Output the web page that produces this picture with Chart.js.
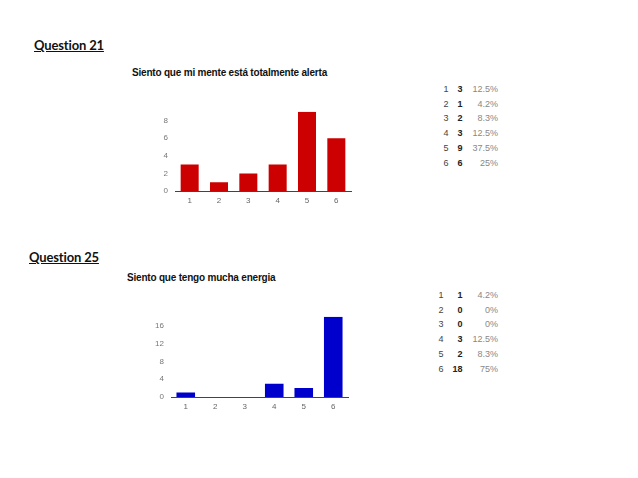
<!DOCTYPE html>
<html>
<head>
<meta charset="utf-8">
<script src="https://cdn.jsdelivr.net/npm/chart.js@4/dist/chart.umd.min.js"></script>
<style>
  html, body { margin: 0; padding: 0; background: #fff; }
  #page { position: relative; width: 638px; height: 478px; overflow: hidden; background: #fff; }
  .q { position: absolute; font-family: Lato, "Open Sans", sans-serif; font-weight: 700; font-size: 13px; color: #111; text-decoration: underline; line-height: 16px; white-space: nowrap; letter-spacing: -0.15px; }
  .ct { position: absolute; font-family: "Liberation Sans", Arial, sans-serif; font-weight: 700; font-size: 10px; color: #111; line-height: 12px; white-space: nowrap; letter-spacing: -0.2px; }
  canvas { position: absolute; }
  table.sum { position: absolute; border-collapse: collapse; font-family: "Liberation Sans", Arial, sans-serif; font-size: 9px; }
  table.sum td { padding: 0; height: 14.7px; line-height: 14.7px; white-space: nowrap; }
  table.sum td.c1 { color: #444; text-align: left; padding-right: 9px; }
  table.sum td.c2 { color: #222; font-weight: 700; text-align: right; padding-right: 10px; }
  table.sum td.c3 { color: #888; text-align: right; }
</style>
</head>
<body>
<div id="page">
  <div class="q" style="left:34px; top:37px;">Question 21</div>
  <div class="ct" style="left:132px; top:67px;" id="t1"></div>
  <canvas id="c1" style="left:140px; top:100px;"></canvas>
  <table class="sum" id="tab1" style="right:140px; top:82px;"></table>

  <div class="q" style="left:29px; top:249px;">Question 25</div>
  <div class="ct" style="left:127px; top:272px;" id="t2"></div>
  <canvas id="c2" style="left:136px; top:305px;"></canvas>
  <table class="sum" id="tab2" style="right:140px; top:288px;"></table>
</div>
<script>
// ---- data ----
const categories = ['1', '2', '3', '4', '5', '6'];
const q21Title = 'Siento que mi mente está totalmente alerta';
const q21Values = [3, 1, 2, 3, 9, 6];
const q21Percents = ['12.5%', '4.2%', '8.3%', '12.5%', '37.5%', '25%'];
const q21Ticks = [0, 2, 4, 6, 8];
const q21Max = 9;

const q25Title = 'Siento que tengo mucha energia';
const q25Values = [1, 0, 0, 3, 2, 18];
const q25Percents = ['4.2%', '0%', '0%', '12.5%', '8.3%', '75%'];
const q25Ticks = [0, 4, 8, 12, 16];
const q25Max = 18;

document.getElementById('t1').textContent = q21Title;
document.getElementById('t2').textContent = q25Title;

function fillTable(id, values, percents) {
  const t = document.getElementById(id);
  categories.forEach((c, i) => {
    const tr = document.createElement('tr');
    const a = document.createElement('td'); a.className = 'c1'; a.textContent = c;
    const b = document.createElement('td'); b.className = 'c2'; b.textContent = values[i];
    const d = document.createElement('td'); d.className = 'c3'; d.textContent = percents[i];
    tr.appendChild(a); tr.appendChild(b); tr.appendChild(d);
    t.appendChild(tr);
  });
}
fillTable('tab1', q21Values, q21Percents);
fillTable('tab2', q25Values, q25Percents);

function makeChart(id, w, h, values, color, ticks, max, padTop, barPct) {
  const cv = document.getElementById(id);
  cv.width = w; cv.height = h;
  cv.style.width = w + 'px'; cv.style.height = h + 'px';
  return new Chart(cv, {
    type: 'bar',
    data: {
      labels: categories,
      datasets: [{ data: values, backgroundColor: color, borderWidth: 0, barPercentage: barPct, categoryPercentage: 1 }]
    },
    options: {
      responsive: false,
      animation: false,
      devicePixelRatio: 1,
      layout: { padding: { top: padTop, right: 4, left: 0, bottom: 0 } },
      plugins: { legend: { display: false }, tooltip: { enabled: false }, title: { display: false } },
      scales: {
        x: {
          grid: { display: false, drawTicks: false },
          border: { display: true, color: '#444', width: 1 },
          ticks: { color: '#666', font: { family: 'Liberation Sans, Arial, sans-serif', size: 8 }, padding: 5, maxRotation: 0 },
          afterFit: (axis) => { axis.height = 21; }
        },
        y: {
          min: 0, max: max,
          grid: { display: false, drawTicks: false },
          border: { display: false },
          ticks: { color: '#777', font: { family: 'Liberation Sans, Arial, sans-serif', size: 8 }, padding: 7 },
          afterBuildTicks: (axis) => { axis.ticks = ticks.map(v => ({ value: v })); },
          afterFit: (axis) => { axis.width = 35; }
        }
      }
    }
  });
}

makeChart('c1', 215, 112, q21Values, '#cc0000', q21Ticks, q21Max, 9, 0.614);
makeChart('c2', 216, 113, q25Values, '#0000cc', q25Ticks, q25Max, 11, 0.63);
</script>
</body>
</html>
